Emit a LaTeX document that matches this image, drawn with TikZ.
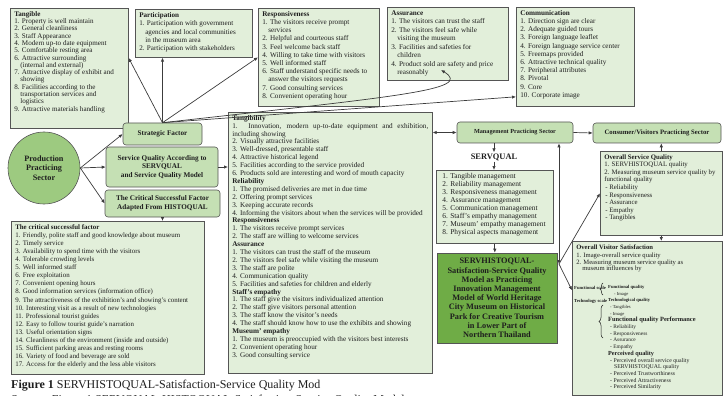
\documentclass[tikz,border=0pt]{standalone}
\usepackage{fontspec}
\setmainfont{Liberation Serif}
\usetikzlibrary{arrows.meta, decorations.pathreplacing}

\definecolor{boxfill}{HTML}{E2EFDA}
\definecolor{midgreen}{HTML}{C5E0B4}
\definecolor{circgreen}{HTML}{9DCA80}
\definecolor{darkgreen}{HTML}{6FAC46}
\definecolor{edge}{HTML}{555555}
\definecolor{ink}{HTML}{1E1E1E}

\newcommand{\panel}[3]{\parbox[c][#2][t]{#1}{\raggedright #3}}
\newcommand{\ind}{\hspace*{6pt}}
\newcommand{\fs}[1]{\fontsize{#1}{6.7}\selectfont}

\begin{document}
\begin{tikzpicture}[
  x=1pt, y=-1pt,
  listbox/.style={draw=edge, fill=boxfill, line width=0.6pt, inner xsep=4pt, inner ysep=3pt,
    anchor=north west, text=ink, font=\fontsize{7.2}{8.2}\selectfont},
  roundbox/.style={draw=edge, fill=midgreen, line width=0.6pt, rounded corners=3pt, align=center,
    text=ink, font=\bfseries\fontsize{7.2}{8.6}\selectfont, inner sep=1pt},
  link/.style={draw=edge!70!black, line width=0.7pt, -{Latex[length=4pt,width=3.4pt]}},
  twoway/.style={link, {Latex[length=4pt,width=3.4pt]}-{Latex[length=4pt,width=3.4pt]}},
]
  \useasboundingbox (0,0) rectangle (724,396);

  % top row of lists
  \node[listbox, font=\fontsize{7.1}{7.3}\selectfont] (tangible) at (10,8) {\panel{110pt}{114pt}{%
    \textbf{Tangible}\\
    1. Property is well maintain\\
    2. General cleanliness\\
    3. Staff Appearance\\
    4. Modern up-to date equipment\\
    5. Comfortable resting area\\
    6. Attractive surrounding\\
    \ind(internal and external)\\
    7. Attractive display of exhibit and\\
    \ind showing\\
    8. Facilities according to the\\
    \ind transportation services and\\
    \ind logistics\\
    9. Attractive materials handling}};

  \node[listbox, font=\fontsize{7.1}{8.4}\selectfont] (part) at (135,9) {\panel{109pt}{42pt}{%
    \textbf{Participation}\\
    1. Participation with government\\
    \ind agencies and local communities\\
    \ind in the museum area\\
    2. Participation with stakeholders}};

  \node[listbox] (resp) at (258,8) {\panel{113pt}{92pt}{%
    \textbf{Responsiveness}\\
    1. The visitors receive prompt\\
    \ind services\\
    2. Helpful and courteous staff\\
    3. Feel welcome back staff\\
    4. Willing to take time with visitors\\
    5. Well informed staff\\
    6. Staff understand specific needs to\\
    \ind answer the visitors requests\\
    7. Good consulting services\\
    8. Convenient operating hour}};

  \node[listbox, font=\fontsize{7.2}{8.5}\selectfont] (assur) at (387,7) {\panel{113pt}{67pt}{%
    \textbf{Assurance}\\
    1. The visitors can trust the staff\\
    2. The visitors feel safe while\\
    \ind visiting the museum\\
    3. Facilities and safeties for\\
    \ind children\\
    4. Product sold are safety and price\\
    \ind reasonably}};

  \node[listbox] (comm) at (516,7) {\panel{110pt}{93pt}{%
    \textbf{Communication}\\
    1. Direction sign are clear\\
    2. Adequate guided tours\\
    3. Foreign language leaflet\\
    4. Foreign language service center\\
    5. Freemaps provided\\
    6. Attractive technical quality\\
    7. Peripheral attributes\\
    8. Pivotal\\
    9. Core\\
    10. Corporate image}};

  % production sector and its three factors
  \node[circle, draw=edge, fill=circgreen, line width=0.6pt, minimum size=72pt, align=center,
    text=ink, font=\bfseries\fontsize{8.2}{9.8}\selectfont] (prod) at (44,168)
    {Production\\Practicing\\Sector};

  \node[roundbox, minimum width=79pt, minimum height=22pt] (strat) at (162.5,134) {Strategic Factor};
  \node[roundbox, minimum width=112pt, minimum height=40pt] (svq) at (162,167)
    {Service Quality According to\\SERVQUAL\\and Service Quality Model};
  \node[roundbox, minimum width=115pt, minimum height=27pt] (crit) at (162.5,203.5)
    {The Critical Successful Factor\\Adapted From HISTOQUAL};

  \node[listbox, font=\fontsize{6.9}{8.1}\selectfont] (critlist) at (11,221) {\panel{185pt}{147pt}{%
    \textbf{The critical successful factor}\\
    1. Friendly, polite staff and good knowledge about museum\\
    2. Timely service\\
    3. Availability to spend time with the visitors\\
    4. Tolerable crowding levels\\
    5. Well informed staff\\
    6. Free exploitation\\
    7. Convenient opening hours\\
    8. Good information services (information office)\\
    9. The attractiveness of the exhibition's and showing's content\\
    10. Interesting visit as a result of new technologies\\
    11. Professional tourist guides\\
    12. Easy to follow tourist guide's narration\\
    13. Useful orientation signs\\
    14. Cleanliness of the environment (inside and outside)\\
    15. Sufficient parking areas and resting rooms\\
    16. Variety of food and beverage are sold\\
    17. Access for the elderly and the less able visitors}};

  \node[listbox, font=\fontsize{7.2}{7.9}\selectfont] (tangib) at (228,112) {\panel{196pt}{255pt}{%
    \textbf{Tangibility}\\
    \makebox[\linewidth][s]{1. Innovation, modern up-to-date equipment and exhibition,}\\
    including showing\\
    2. Visually attractive facilities\\
    3. Well-dressed, presentable staff\\
    4. Attractive historical legend\\
    5. Facilities according to the service provided\\
    6. Products sold are interesting and word of mouth capacity\\
    \textbf{Reliability}\\
    1. The promised deliveries are met in due time\\
    2. Offering prompt services\\
    3. Keeping accurate records\\
    4. Informing the visitors about when the services will be provided\\
    \textbf{Responsiveness}\\
    1. The visitors receive prompt services\\
    2. The staff are willing to welcome services\\
    \textbf{Assurance}\\
    1. The visitors can trust the staff of the museum\\
    2. The visitors feel safe while visiting the museum\\
    3. The staff are polite\\
    4. Communication quality\\
    5. Facilities and safeties for children and elderly\\
    \textbf{Staff's empathy}\\
    1. The staff give the visitors individualized attention\\
    2. The staff give visitors personal attention\\
    3. The staff know the visitor's needs\\
    4. The staff should know how to use the exhibits and showing\\
    \textbf{Museum' empathy}\\
    1. The museum is preoccupied with the visitors best interests\\
    2. Convenient operating hour\\
    3. Good consulting service}};

  % management and consumer sectors
  \node[roundbox, minimum width=116pt, minimum height=21pt, font=\bfseries\fontsize{6.2}{7}\selectfont] (mgmt) at (515,132.5) {Management Practicing Sector};
  \node[roundbox, minimum width=128pt, minimum height=20pt, font=\bfseries\fontsize{6.7}{7}\selectfont] (cons) at (657,133) {Consumer/Visitors Practicing Sector};

  \node[text=ink, font=\bfseries\fontsize{8.4}{9}\selectfont, inner sep=1pt] (sqlabel) at (494,157) {SERVQUAL};

  \node[listbox, inner xsep=6pt, font=\fontsize{7.4}{8}\selectfont] (sqlist) at (436,170) {\panel{105pt}{67pt}{%
    1. Tangible management\\
    2. Reliability management\\
    3. Responsiveness management\\
    4. Assurance management\\
    5. Communication management\\
    6. Staff's empathy management\\
    7. Museum' empathy management\\
    8. Physical aspects management}};

  \node[draw=edge, fill=darkgreen, line width=0.6pt, minimum width=120pt, minimum height=90pt, align=center,
    text=ink, font=\bfseries\fontsize{8.3}{9.2}\selectfont] (servhist) at (497,298)
    {SERVHISTOQUAL-\\Satisfaction-Service Quality\\Model as Practicing\\Innovation Management\\
     Model of World Heritage\\City Museum on Historical\\Park for Creative Tourism\\in Lower Part of\\Northern Thailand};

  \node[listbox, font=\fontsize{6.8}{7.6}\selectfont] (osq) at (600,151) {\panel{114pt}{78pt}{%
    \textbf{Overall Service Quality}\\
    1. SERVHISTOQUAL quality\\
    2. Measuring museum service quality by\\
    functional quality\\
    \hspace*{1pt}- Reliability\\
    \hspace*{1pt}- Responsiveness\\
    \hspace*{1pt}- Assurance\\
    \hspace*{1pt}- Empathy\\
    \hspace*{1pt}- Tangibles}};

  \node[listbox, inner ysep=4pt, font=\fontsize{6.6}{6.6}\selectfont] (ovs) at (572,241) {\panel{142pt}{146pt}{%
    \textbf{Overall Visitor Satisfaction}\\[1pt]
    1. Image-overall service quality\\
    2. Measuring museum service quality as\\
    \ind museum influences by}};

  \node[anchor=base west, inner sep=0pt, text=ink, font=\bfseries\fontsize{4.6}{6}\selectfont] (funcscale) at (574,289) {Functional scale};
  \node[anchor=base west, inner sep=0pt, text=ink, font=\bfseries\fontsize{4.6}{6}\selectfont] (techscale) at (574,302) {Technology scale};
  \node[anchor=north west, inner sep=0pt, align=left, text=ink, font=\fs{4.6}] (ovsdetail) at (608,285) {%
    \textbf{Functional quality}\\
    \ind - Image\\
    \textbf{Technological quality}\\
    \hspace*{2pt}- Tangibles\\
    \hspace*{2pt}- Image\\
    \fs{6.4}\textbf{Functional quality Performance}\\
    \fs{5.4}\hspace*{2pt}- Reliability\\
    \fs{5.4}\hspace*{2pt}- Responsiveness\\
    \fs{5.4}\hspace*{2pt}- Assurance\\
    \fs{5.4}\hspace*{2pt}- Empathy\\
    \fs{6.2}\textbf{Perceived quality}\\
    \fs{5.8}\hspace*{2pt}- Perceived overall service quality\\
    \fs{5.8}\ind SERVHISTOQUAL quality\\
    \fs{5.8}\hspace*{2pt}- Perceived Trustworthiness\\
    \fs{5.8}\hspace*{2pt}- Perceived Attractiveness\\
    \fs{5.8}\hspace*{2pt}- Perceived Similarity};
  \draw[ink, line width=0.5pt, decorate, decoration={brace, amplitude=3pt}] (603,295) -- (603,283);
  \draw[ink, line width=0.5pt, decorate, decoration={brace, amplitude=4pt}] (603,338) -- (603,305);

  % caption
  \node[anchor=base west, inner sep=0pt, text=ink, font=\fontsize{12}{13}\selectfont] (cap) at (11,388)
    {\textbf{Figure 1} SERVHISTOQUAL-Satisfaction-Service Quality Mod};
  \node[anchor=base west, inner sep=0pt, text=ink, font=\fontsize{12}{13}\selectfont] (src) at (11,403)
    {Source: Figure 1 SERVQUAL-HISTOQUAL-Satisfaction-Service Quality Model};

  % connectors
  \coordinate (asrtip) at (441,70);
  \coordinate (hub) at (559,264);

  \draw[link] (prod.east) -- (strat.west);
  \draw[link] (prod.east) -- (svq.west);
  \draw[link] (prod.east) -- (crit.west);

  \draw[link] (strat.north) -- (tangible.10);
  \draw[link] (strat.north) -- (strat.north |- part.south);
  \draw[link] (strat.north) -- (resp.west);
  \draw[link] (strat.north) .. controls (400,96) and (474,90) .. (asrtip);
  \draw[link] (strat.north) -- (comm.214);

  \draw[link] (svq.east) -- (svq.east -| tangib.west);
  \draw[link] (crit.south) -- (crit.south |- critlist.north);

  \draw[twoway] (tangib.east |- mgmt.west) -- (mgmt.west);
  \draw[link] (mgmt.east) -- (cons.west);
  \draw[link] (sqlabel.north |- mgmt.south) -- (sqlabel.north);
  \draw[link] (sqlabel.south) -- (sqlabel.south |- sqlist.north);
  \draw[link] (sqlist.south) -- (sqlist.south |- servhist.north);

  \draw[twoway] (mgmt.south -| hub) -- (hub);
  \draw[link] (hub) -- (osq.west);
  \draw[link] (hub) -- ([yshift=28pt]ovs.west);

  \draw[link] (osq.north) -- (osq.north |- cons.south);
  \draw[link] (osq.south) -- (osq.south |- ovs.north);
\end{tikzpicture}
\end{document}
